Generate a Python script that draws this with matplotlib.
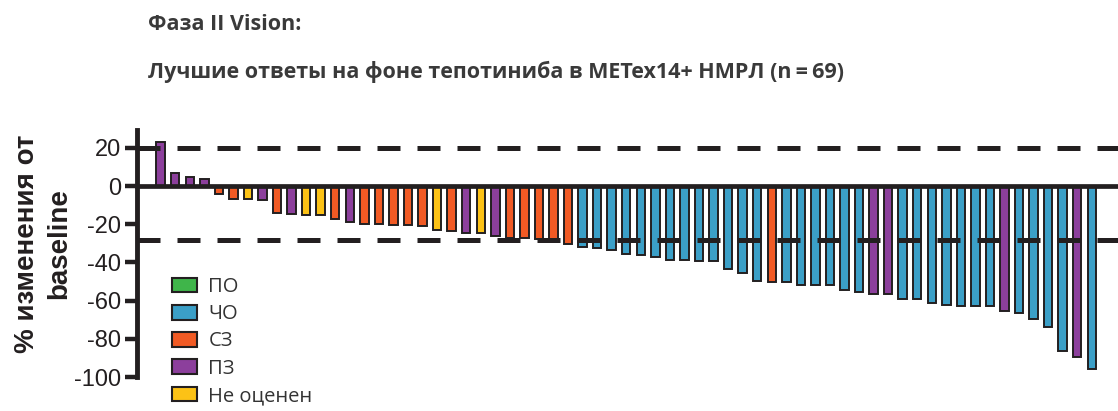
import matplotlib
matplotlib.use("Agg")
import matplotlib.pyplot as plt
from matplotlib.patches import Patch

# best % change from baseline, one bar per patient
values = [23, 7, 5, 3.5, -4, -7, -7, -7.5, -14.3, -14.7,
          -15.2, -15.2, -17.4, -19, -19.7, -19.9, -20.2, -20.4, -20.9, -23,
          -23.6, -24.4, -24.8, -26.2, -27.4, -27.4, -27.9, -28.8, -30.4, -32.1,
          -32.2, -33.6, -35.3, -36.2, -37.1, -38.8, -38.8, -39.4, -39.4, -43.2,
          -45.5, -49.9, -50.2, -50.2, -51.6, -51.6, -51.6, -54.6, -55.5, -56.7,
          -56.7, -59.3, -59.3, -61.2, -62.1, -63, -63, -63, -65.3, -66.4,
          -69.4, -73.8, -86.4, -89.6, -95.7]
responses = ["ПЗ", "ПЗ", "ПЗ", "ПЗ", "СЗ", "СЗ", "НО", "ПЗ", "СЗ", "ПЗ",
             "НО", "НО", "СЗ", "ПЗ", "СЗ", "СЗ", "СЗ", "СЗ", "СЗ", "НО",
             "СЗ", "ПЗ", "НО", "ПЗ", "СЗ", "СЗ", "СЗ", "СЗ", "СЗ", "ЧО",
             "ЧО", "ЧО", "ЧО", "ЧО", "ЧО", "ЧО", "ЧО", "ЧО", "ЧО", "ЧО",
             "ЧО", "ЧО", "СЗ", "ЧО", "ЧО", "ЧО", "ЧО", "ЧО", "ЧО", "ПЗ",
             "ПЗ", "ЧО", "ЧО", "ЧО", "ЧО", "ЧО", "ЧО", "ЧО", "ПЗ", "ЧО",
             "ЧО", "ЧО", "ЧО", "ПЗ", "ЧО"]

legend_keys = ["ПО", "ЧО", "СЗ", "ПЗ", "НО"]
legend_labels = ["ПО", "ЧО", "СЗ", "ПЗ", "Не оценен"]
colors = {"ПО": "#3fb54a", "ЧО": "#3b9fc7", "СЗ": "#f15a24",
          "ПЗ": "#8c3f9c", "НО": "#fcc216"}
yticks = [20, 0, -20, -40, -60, -80, -100]
ref_lines = [20, -28]

ink = "#231f20"

fig = plt.figure(figsize=(11.18, 4.11), dpi=100)
ax = fig.add_axes([0.1225, 0.0827, 0.8775, 0.601])

x = list(range(len(values)))
ax.bar(x, values, width=0.58, color=[colors[r] for r in responses],
       edgecolor=ink, linewidth=1.4, zorder=2)

for yv in ref_lines:
    ax.axhline(yv, color=ink, lw=3.6, linestyle=(0, (4.6, 3.4)),
               dash_capstyle="butt", zorder=3)

ax.set_xlim(-1.63, 65.8)
ax.set_ylim(-100, 29.4)
ax.set_xticks([])
ax.set_yticks(yticks)
ax.set_yticklabels([str(t) for t in yticks], fontsize=17, color=ink,
                   family="Liberation Sans")
ax.tick_params(axis="y", direction="out", length=8.6, width=3.2, color=ink, pad=3)

for s in ["top", "right"]:
    ax.spines[s].set_visible(False)
ax.spines["left"].set_linewidth(3.5)
ax.spines["left"].set_color(ink)
ax.spines["bottom"].set_position(("data", 0))
ax.spines["bottom"].set_linewidth(3.4)
ax.spines["bottom"].set_color(ink)
ax.spines["bottom"].set_zorder(4)

fig.text(43 / 1118, 1 - 244 / 411, "% изменения от\nbaseline", rotation=90,
         ha="center", va="center", multialignment="center", linespacing=1.3,
         fontsize=20, fontweight="bold", color=ink, family="Liberation Sans")

fig.text(148 / 1118, 1 - 25 / 411, "Фаза II Vision:", fontsize=15.5,
         fontweight="bold", color="#3a3a3a", va="center", family="Open Sans")
fig.text(148 / 1118, 1 - 72 / 411,
         "Лучшие ответы на фоне тепотиниба в METex14+ НМРЛ (n\u2009=\u200969)",
         fontsize=15.5, fontweight="bold", color="#3a3a3a", va="center",
         family=["Open Sans", "DejaVu Sans"])

handles = [Patch(facecolor=colors[k], edgecolor=ink, linewidth=1.5) for k in legend_keys]
fig.legend(handles, legend_labels, loc="upper left",
           bbox_to_anchor=(172 / 1118, 1 - 277 / 411), frameon=False,
           prop={"family": "Open Sans", "size": 14.5}, labelcolor="#333333",
           handlelength=1.25, handleheight=0.75, handletextpad=0.55,
           labelspacing=0.36, borderpad=0, borderaxespad=0)

fig.savefig("out.png", dpi=100)
